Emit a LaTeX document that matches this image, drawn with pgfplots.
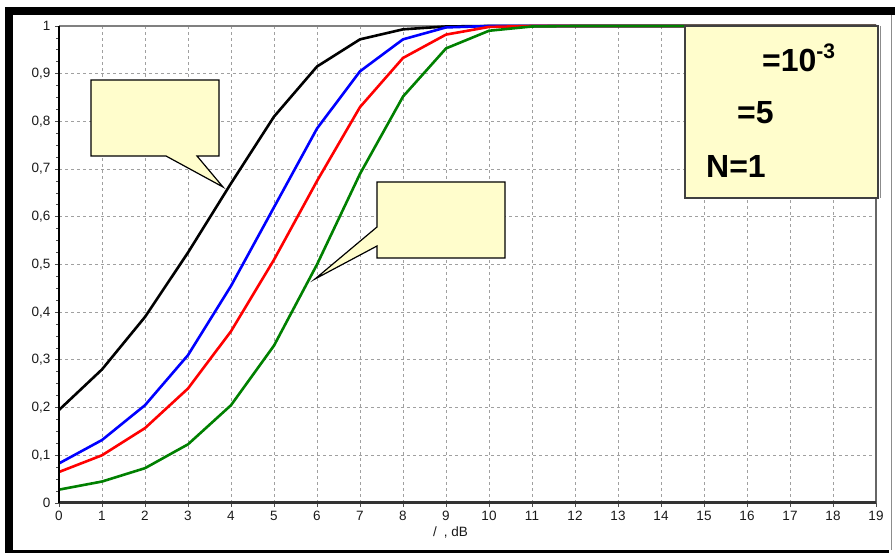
\documentclass[border=0pt]{standalone}
\usepackage{pgfplots}
\pgfplotsset{compat=1.18}
\usepackage{fontspec}
\setmainfont{Liberation Sans}
\definecolor{callout}{HTML}{FFFDCC}
\definecolor{dgreen}{HTML}{008000}
\definecolor{gridgray}{HTML}{A0A0A0}
\pgfplotstableread{
x y
0 0.195
1 0.280
2 0.390
3 0.525
4 0.670
5 0.810
6 0.915
7 0.972
8 0.993
9 0.999
10 1
11 1
12 1
13 1
14 1
15 1
16 1
17 1
18 1
19 1
}\blackdata
\pgfplotstableread{
x y
0 0.083
1 0.132
2 0.205
3 0.310
4 0.455
5 0.620
6 0.785
7 0.905
8 0.972
9 0.997
10 1
11 1
12 1
13 1
14 1
15 1
16 1
17 1
18 1
19 1
}\bluedata
\pgfplotstableread{
x y
0 0.065
1 0.100
2 0.157
3 0.240
4 0.360
5 0.510
6 0.675
7 0.830
8 0.933
9 0.982
10 0.998
11 1
12 1
13 1
14 1
15 1
16 1
17 1
18 1
19 1
}\reddata
\pgfplotstableread{
x y
0 0.028
1 0.045
2 0.073
3 0.123
4 0.205
5 0.330
6 0.500
7 0.690
8 0.852
9 0.953
10 0.990
11 0.999
12 1
13 1
14 1
15 1
16 1
17 1
18 1
19 1
}\greendata
\begin{document}
\begin{tikzpicture}[x=1pt,y=1pt]
\path[use as bounding box] (0,0) rectangle (895,554);
\begin{axis}[
  at={(59pt,51pt)}, anchor=south west,
  scale only axis, width=817pt, height=477pt,
  xmin=0, xmax=19, ymin=0, ymax=1,
  xtick={0,1,...,19},
  ytick={0,0.1,0.2,0.3,0.4,0.5,0.6,0.7,0.8,0.9,1},
  yticklabels={0,{0,1},{0,2},{0,3},{0,4},{0,5},{0,6},{0,7},{0,8},{0,9},1},
  minor y tick num=3,
  tick pos=left, tick align=outside,
  major tick length=4pt, minor tick length=3pt,
  tick style={black!70, line width=0.8pt},
  /pgf/number format/assume math mode=true,
  ticklabel style={font=\fontsize{13.5}{13.5}\selectfont, text=black!90},
  xticklabel style={yshift=-1pt},
  yticklabel style={xshift=-1pt},
  xmajorgrids, ymajorgrids,
  major grid style={gridgray, dash pattern=on 3pt off 3pt, line width=0.8pt},
  axis line style={draw=none},
  clip=false,
]
\draw[black!50, line width=1.5pt] (axis cs:0,1) -- (axis cs:19,1);
\draw[black!60, line width=1.6pt] (axis cs:19,0) -- (axis cs:19,1);
\addplot[black, line width=2.6pt] table[x=x,y=y] {\blackdata};
\addplot[blue, line width=2.6pt] table[x=x,y=y] {\bluedata};
\addplot[red, line width=2.6pt] table[x=x,y=y] {\reddata};
\addplot[dgreen, line width=2.6pt] table[x=x,y=y] {\greendata};
\draw[black!80, line width=3pt] (axis cs:0,0) -- (axis cs:19,0);
\draw[black, line width=2.2pt] (axis cs:0,0) -- (axis cs:0,1);
\end{axis}
% x-axis label
\node[anchor=base west, font=\fontsize{13.5}{13.5}\selectfont, inner sep=0pt, text=black!90] at (433,17) {/\hspace{7pt}, dB};
% parameter box
\draw[fill=callout, draw=black!75, line width=1.2pt] (685,528) rectangle (878,356);
\draw[black!45, line width=0.8pt] (880.5,528) -- (880.5,356);
\node[anchor=base west, font=\fontsize{32}{32}\bfseries\selectfont, inner sep=0pt] at (762,482) {=10\raisebox{0.42em}{\fontsize{21}{21}\selectfont -3}};
\node[anchor=base west, font=\fontsize{32}{32}\bfseries\selectfont, inner sep=0pt] at (737,430) {=5};
\node[anchor=base west, font=\fontsize{32}{32}\bfseries\selectfont, inner sep=0pt] at (706,376) {N=1};
% callouts
\draw[fill=callout, line width=1.2pt, line join=miter] (91,474) -- (219,474) -- (219,398) -- (197,398) -- (223,367) -- (166,398) -- (91,398) -- cycle;
\draw[fill=callout, line width=1.2pt, line join=miter] (377,372) -- (505,372) -- (505,296) -- (377,296) -- (377,308) -- (315,275) -- (377,327) -- cycle;
% outer frame
\fill[black] (5,1) rectangle (13,547);
\fill[black] (5,539) rectangle (895,547);
\fill[black] (5,1) rectangle (889,4);
\draw[black!45, line width=1pt] (891,4) -- (891,539);
\end{tikzpicture}
\end{document}
